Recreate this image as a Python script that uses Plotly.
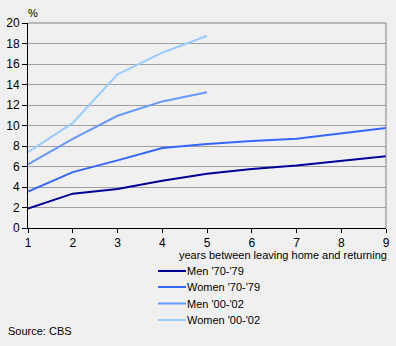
import plotly.graph_objects as go

years = [1, 2, 3, 4, 5, 6, 7, 8, 9]
men_70_79 = [1.9, 3.35, 3.8, 4.6, 5.3, 5.75, 6.1, 6.55, 7.0]
women_70_79 = [3.55, 5.45, 6.6, 7.8, 8.2, 8.5, 8.7, 9.2, 9.75]
years_00 = [1, 2, 3, 4, 5]
men_00_02 = [6.2, 8.7, 10.95, 12.35, 13.25]
women_00_02 = [7.4, 10.25, 15.0, 17.1, 18.75]

names = ["Men '70-'79", "Women '70-'79", "Men '00-'02", "Women '00-'02"]
colors = ["#000099", "#3366FF", "#6699FF", "#99CCFF"]
xs = [years, years, years_00, years_00]
ys = [men_70_79, women_70_79, men_00_02, women_00_02]

W, H = 396, 346
L, R, T, B = 28, 10, 23, 118
pw, ph = W - L - R, H - T - B

def px(x):
    return (x - L) / pw

def py(y):
    return (H - B - y) / ph

fig = go.Figure()
for n, c, x, y in zip(names, colors, xs, ys):
    fig.add_trace(go.Scatter(x=x, y=y, name=n, mode="lines",
                             line=dict(color=c, width=2), showlegend=False))

fam = "Liberation Sans, Arial, sans-serif"
font = dict(family=fam, size=11, color="#000000")
tickfont = dict(family=fam, size=12, color="#000000")

shapes = [
    dict(type="line", xref="paper", yref="paper", x0=0, x1=1, y0=1, y1=1,
         line=dict(color="#808080", width=1)),
    dict(type="line", xref="paper", yref="paper", x0=1, x1=1, y0=0, y1=1,
         line=dict(color="#808080", width=1)),
]
annotations = [
    dict(text="%", xref="paper", yref="paper", x=px(26), y=py(13), xanchor="left",
         yanchor="middle", showarrow=False, font=font),
    dict(text="years between leaving home and returning", xref="paper", yref="paper",
         x=px(389), y=py(255), xanchor="right", yanchor="middle", showarrow=False, font=font),
    dict(text="Source: CBS", xref="paper", yref="paper", x=px(6), y=py(331),
         xanchor="left", yanchor="middle", showarrow=False, font=font),
]
leg_y = [271, 287, 303.5, 320]
for n, c, ly in zip(names, colors, leg_y):
    shapes.append(dict(type="line", xref="paper", yref="paper", x0=px(158), x1=px(186),
                       y0=py(ly), y1=py(ly), line=dict(color=c, width=2)))
    annotations.append(dict(text=n, xref="paper", yref="paper", x=px(185), y=py(ly),
                            xanchor="left", yanchor="middle", showarrow=False, font=font))

fig.update_layout(
    width=W, height=H,
    margin=dict(l=L, r=R, t=T, b=B, autoexpand=False),
    paper_bgcolor="#F0F0F0", plot_bgcolor="#F0F0F0",
    font=font,
    xaxis=dict(range=[1, 9], tickvals=years, showgrid=False, zeroline=False,
               showline=True, linecolor="#000000", linewidth=1, automargin=False,
               ticks="outside", ticklen=4, tickcolor="#000000", tickfont=tickfont),
    yaxis=dict(range=[0, 20], dtick=2, showgrid=True, gridcolor="#A0A0A0", gridwidth=1,
               zeroline=False, showline=True, linecolor="#000000", linewidth=1,
               automargin=False,
               ticks="outside", ticklen=5, tickcolor="#000000", tickfont=tickfont),
    shapes=shapes, annotations=annotations,
)

fig.write_html("out.html")
